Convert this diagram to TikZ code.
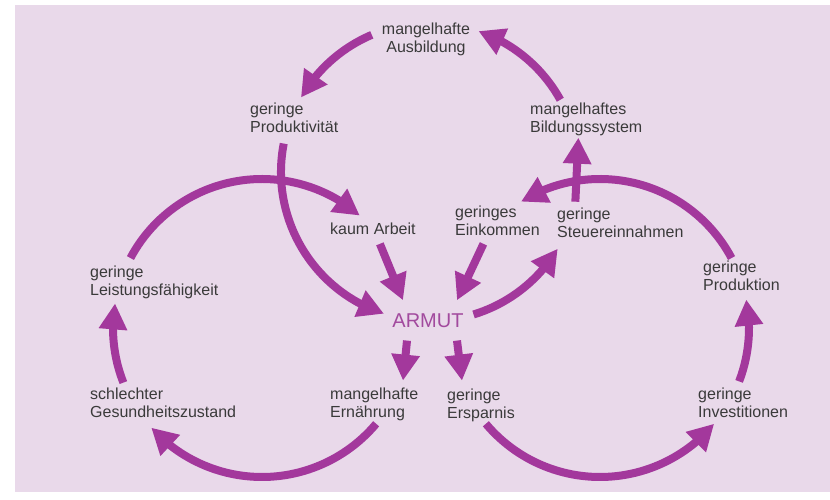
\documentclass[tikz,border=0pt]{standalone}
\usepackage{fontspec}
\setmainfont{Liberation Sans}
\usetikzlibrary{arrows.meta,bending,calc}
\definecolor{bgpink}{HTML}{E9D9EA}
\definecolor{arrowpurple}{HTML}{A3389C}
\definecolor{armutcol}{HTML}{A24A9E}
\definecolor{txtgray}{HTML}{3A3A3A}
\begin{document}
\begin{tikzpicture}[x=1pt,y=1pt,
  lbl/.style={inner sep=0pt, text=txtgray, font=\fontsize{16}{18}\selectfont, align=left, anchor=north west},
  arr/.style={draw=arrowpurple, line width=8pt, -{Triangle[length=26pt,width=27pt]}},
]
\useasboundingbox (0,0) rectangle (830,500);
\fill[white] (0,0) rectangle (830,500);
\fill[bgpink] (15,8) rectangle (830,495);

% circle centres
\coordinate (T) at (430,328);
\coordinate (L) at (262,172);
\coordinate (R) at (600,172);

% labels
\node[lbl, anchor=north, align=center] (ausb) at (426,477.3) {mangelhafte\\Ausbildung};
\node[lbl] (prod) at (250,397.3) {geringe\\Produktivität};
\node[lbl] (bild) at (530,397.3) {mangelhaftes\\Bildungssystem};
\node[lbl] (kaum) at (330,277.3) {kaum Arbeit};
\node[lbl] (eink) at (455,294.3) {geringes\\Einkommen};
\node[lbl] (steu) at (557,292.3) {geringe\\Steuereinnahmen};
\node[lbl] (leist) at (90,234.3) {geringe\\Leistungsfähigkeit};
\node[lbl] (produ) at (703,239.3) {geringe\\Produktion};
\node[lbl] (gesund) at (90,112.3) {schlechter\\Gesundheitszustand};
\node[lbl] (ernae) at (330,112.3) {mangelhafte\\Ernährung};
\node[lbl] (ersp) at (447,111.3) {geringe\\Ersparnis};
\node[lbl] (invest) at (698,112.3) {geringe\\Investitionen};
\node[inner sep=0pt, anchor=base, text=armutcol, font=\fontsize{20}{24}\selectfont] (armut) at (428,172.8) {ARMUT};

% top circle arcs
\draw[arr] ($(T)+(113:149)$) arc[start angle=113, end angle=150, radius=149];
\draw[arr] ($(T)+(29:149)$) arc[start angle=29, end angle=71, radius=149];
\draw[arr] ($(T)+(169:149)$) arc[start angle=169, end angle=252, radius=149];
\draw[arr] ($(T)+(-73:149)$) arc[start angle=-73, end angle=-31, radius=149];

% left circle arcs
\draw[arr] ($(L)+(152:149)$) arc[start angle=152, end angle=49, radius=149];
\draw[arr] ($(L)+(201.5:149)$) arc[start angle=201.5, end angle=170.5, radius=149];
\draw[arr] ($(L)+(-40:149)$) arc[start angle=-40, end angle=-138, radius=149];

% right circle arcs
\draw[arr] ($(R)+(28:149)$) arc[start angle=28, end angle=122, radius=149];
\draw[arr] ($(R)+(-21:149)$) arc[start angle=-21, end angle=11, radius=149];
\draw[arr] ($(R)+(220:149)$) arc[start angle=220, end angle=320, radius=149];

% straight arrows
\draw[arr] ($(kaum.south)+(7,-9)$) -- ($(armut.north)+(-25,13)$);
\draw[arr] ($(eink.south)+(-14,-8)$) -- ($(armut.north)+(29,13)$);
\draw[arr] ($(armut.south)+(-21,-13)$) -- ($(armut.south)+(-25,-53)$);
\draw[arr] ($(armut.south)+(29,-13)$) -- ($(armut.south)+(34,-53)$);
\draw[arr] ($(steu.north)+(-45,6)$) -- ($(steu.north)+(-42,70)$);
\end{tikzpicture}
\end{document}
